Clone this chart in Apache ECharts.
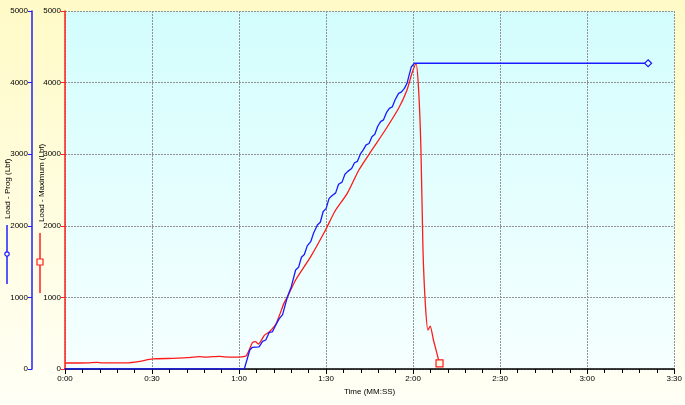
<!DOCTYPE html>
<html>
<head>
<meta charset="utf-8">
<title>Load vs Time</title>
<script src="https://cdn.jsdelivr.net/npm/echarts@6/dist/echarts.min.js"></script>
<style>
  html, body { margin: 0; padding: 0; }
  #main { width: 685px; height: 405px; }
</style>
</head>
<body>
<div id="main"></div>
<script>
// time in seconds, load in Lbf
var pengTimes = [0, 61.8, 63.7, 64.6, 66.9, 68.1, 69.2, 70.4, 71.5, 72.5, 73.8, 75, 76.7,
  78, 79.5, 80.5, 81.5, 82.5, 83.5, 84.7, 85.7, 87, 88, 89, 90, 91, 92, 93.3, 94.3, 95.5,
  96.5, 97.5, 98.8, 99.8, 100.8, 101.8, 102.8, 103.8, 104.8, 105.8, 106.8, 107.8, 108.8,
  109.8, 110.8, 111.8, 112.8, 113.8, 115, 116, 117, 117.9, 118.6, 119.4, 120.5, 201];
var pengLoads = [0, 0, 265, 303, 310, 385, 405, 510, 520, 600, 700, 760, 1010,
  1150, 1383, 1420, 1560, 1600, 1720, 1778, 1900, 2011, 2050, 2200, 2240, 2380, 2420, 2460, 2580, 2610,
  2720, 2760, 2800, 2880, 2900, 3000, 3060, 3130, 3150, 3245, 3280, 3390, 3455,
  3480, 3580, 3641, 3660, 3760, 3850, 3870, 3920, 3990, 4100, 4222, 4270, 4270];

var maxTimes = [0, 5, 8, 10.9, 13, 18, 21.2, 25.8, 30.1, 37.2, 42, 46.3, 48.6, 53.2, 55, 57.8,
  61, 62.4, 63.5, 64.6, 65.6, 66.7, 68.7, 70.4, 72.7, 75.5, 76.7, 79.5, 84.7, 89.8, 93,
  97.3, 101.3, 105.8, 110.4, 115, 117.9, 119.6, 121, 121.9, 122.7, 123.4, 124.2, 125.1,
  125.9, 127, 129.1];
var maxLoads = [84, 84, 86, 93, 86, 86, 86, 107, 140, 149, 158, 172, 166, 177, 170, 165,
  170, 182, 265, 368, 382, 349, 470, 517, 628, 920, 1010, 1243, 1569, 1941, 2200,
  2453, 2779, 3059, 3338, 3641, 3897, 4130, 4265, 3897, 3059, 1662, 917, 545,
  600, 405, 79];

function pairs(ts, vs, sym) {
  var out = [];
  for (var i = 0; i < ts.length; i++) out.push([ts[i], vs[i]]);
  out[out.length - 1] = { value: out[out.length - 1], symbol: sym, symbolSize: 7 };
  return out;
}
function mmss(v) {
  var m = Math.floor(v / 60), s = Math.round(v % 60);
  return m + ':' + (s < 10 ? '0' : '') + s;
}
function plain(v) { return String(v); }

var FONT = 'Liberation Sans Narrow, Liberation Sans, sans-serif';
var GRIDLINE = { color: '#929292', type: [2, 1], width: 1 };
var chart = echarts.init(document.getElementById('main'));
var option = {
  animation: false,
  backgroundColor: {
    type: 'linear', x: 0, y: 0, x2: 0, y2: 1,
    colorStops: [{ offset: 0, color: '#fffac6' }, { offset: 1, color: '#fffff6' }]
  },
  grid: {
    left: 65, right: 8, top: 11, bottom: 36,
    show: true, borderWidth: 0,
    backgroundColor: {
      type: 'linear', x: 0, y: 0, x2: 0, y2: 1,
      colorStops: [{ offset: 0, color: '#d3fdfd' }, { offset: 1, color: '#f6ffff' }]
    }
  },
  xAxis: {
    type: 'value', min: 0, max: 210, interval: 30,
    name: 'Time (MM:SS)', nameLocation: 'middle', nameGap: 19,
    nameTextStyle: { fontSize: 8, fontFamily: FONT, color: '#000' },
    axisLine: { show: true, lineStyle: { color: '#000', width: 1.5 } },
    axisTick: { show: true, length: 5, lineStyle: { color: '#000' } },
    minorTick: { show: true, splitNumber: 5, length: 4, lineStyle: { color: '#000' } },
    axisLabel: { fontSize: 8, fontFamily: FONT, color: '#000', margin: 6, formatter: mmss },
    splitLine: { show: true, lineStyle: GRIDLINE }
  },
  yAxis: [{
    type: 'value', min: 0, max: 5000, interval: 1000, position: 'left', offset: 0,
    axisLine: { show: true, lineStyle: { color: '#ff2020', width: 1.5 } },
    axisTick: { show: true, length: 4, lineStyle: { color: '#ff2020' } },
    axisLabel: { fontSize: 8, fontFamily: FONT, color: '#000', margin: 4, formatter: plain },
    splitLine: { show: true, lineStyle: GRIDLINE }
  }, {
    type: 'value', min: 0, max: 5000, interval: 1000, position: 'left', offset: 33,
    axisLine: { show: true, lineStyle: { color: '#2020ff', width: 1.5 } },
    axisTick: { show: true, length: 4, lineStyle: { color: '#2020ff' } },
    axisLabel: { fontSize: 8, fontFamily: FONT, color: '#000', margin: 4, formatter: plain },
    splitLine: { show: false }
  }],
  series: [{
    name: 'Load - Maximum (Lbf)', type: 'line', yAxisIndex: 0,
    data: pairs(maxTimes, maxLoads, 'rect'),
    symbol: 'none',
    lineStyle: { color: '#ff1a1a', width: 1.3 },
    itemStyle: { color: '#fffbe0', borderColor: '#ff1a1a', borderWidth: 1.2 },
    smooth: 0.2
  }, {
    name: 'Load - Prog (Lbf)', type: 'line', yAxisIndex: 1,
    data: pairs(pengTimes, pengLoads, 'diamond'),
    symbol: 'none',
    lineStyle: { color: '#1a1aff', width: 1.3 },
    itemStyle: { color: '#e0ffff', borderColor: '#1a1aff', borderWidth: 1.2 }
  }],
  graphic: [
    { type: 'text', x: 4, y: 219, rotation: Math.PI / 2,
      style: { text: 'Load - Prog (Lbf)', font: '8px ' + FONT, fill: '#000', align: 'left', verticalAlign: 'top' } },
    { type: 'text', x: 38, y: 222, rotation: Math.PI / 2,
      style: { text: 'Load - Maximum (Lbf)', font: '8px ' + FONT, fill: '#000', align: 'left', verticalAlign: 'top' } },
    { type: 'line', shape: { x1: 7, y1: 225, x2: 7, y2: 284 }, style: { stroke: '#2020ff', lineWidth: 1.5 } },
    { type: 'circle', shape: { cx: 7, cy: 254, r: 2.2 }, style: { fill: '#fffbe0', stroke: '#2020ff', lineWidth: 1.2 } },
    { type: 'line', shape: { x1: 40, y1: 233, x2: 40, y2: 293 }, style: { stroke: '#ff2020', lineWidth: 1.5 } },
    { type: 'rect', shape: { x: 37, y: 259, width: 6, height: 6 }, style: { fill: '#fffbe0', stroke: '#ff2020', lineWidth: 1.2 } }
  ]
};
chart.setOption(option);
</script>
</body>
</html>
